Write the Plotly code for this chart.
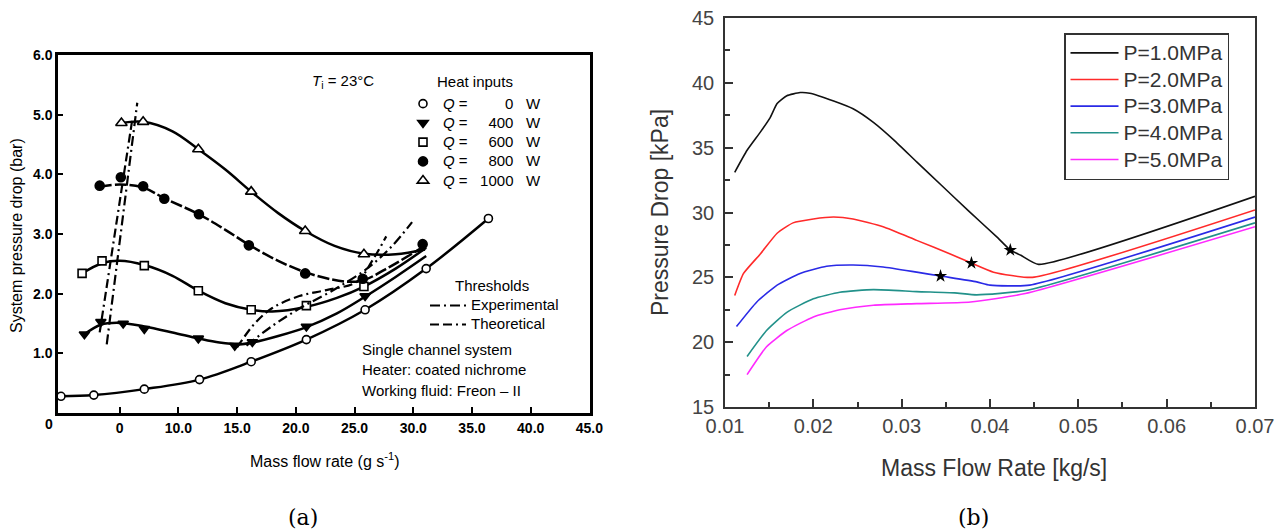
import plotly.graph_objects as go

# ================= Panel (a) data =================
a_xtick_vals = [5, 10, 15, 20, 25, 30, 35, 40, 45]
a_xtick_text = ["0", "10.0", "15.0", "20.0", "25.0", "30.0", "35.0", "40.0", "45.0"]
a_origin_label = "0"
a_ytick_vals = [1, 2, 3, 4, 5, 6]
a_ytick_text = ["1.0", "2.0", "3.0", "4.0", "5.0", "6.0"]

q_labels = ["0", "400", "600", "800", "1000"]

# Q = 0 W (open circles)
q0_x = [0.0, 2.8, 7.1, 11.8, 16.2, 20.9, 25.9, 31.1, 36.4]
q0_y = [0.28, 0.30, 0.40, 0.56, 0.86, 1.23, 1.73, 2.42, 3.26]

# Q = 400 W (filled down triangles)
q400_mx = [2.0, 3.4, 5.3, 7.1, 11.7, 14.8, 16.3, 20.9, 25.9]
q400_my = [1.32, 1.53, 1.50, 1.41, 1.25, 1.13, 1.19, 1.45, 1.96]
q400_cx = [2.0, 3.4, 5.0, 7.1, 9.5, 11.7, 13.5, 15.2, 16.3, 18.5, 20.9, 23.5, 25.9, 28.5, 31.1]
q400_cy = [1.32, 1.48, 1.51, 1.45, 1.35, 1.25, 1.18, 1.15, 1.18, 1.29, 1.44, 1.67, 1.95, 2.28, 2.63]

# Q = 600 W (open squares)
q600_mx = [1.8, 3.5, 7.1, 11.7, 16.2, 20.9, 25.8]
q600_my = [2.34, 2.55, 2.47, 2.05, 1.73, 1.80, 2.12]
q600_cx = [1.8, 3.5, 5.0, 7.1, 9.5, 11.7, 14.0, 16.2, 18.0, 20.9, 23.5, 25.8, 28.5, 31.1]
q600_cy = [2.34, 2.51, 2.55, 2.48, 2.30, 2.05, 1.84, 1.73, 1.70, 1.78, 1.93, 2.12, 2.42, 2.77]

# Q = 800 W (filled circles)
q800_mx = [3.3, 5.1, 7.0, 8.8, 11.75, 16.0, 20.8, 25.7, 30.8]
q800_my = [3.81, 3.95, 3.80, 3.59, 3.33, 2.81, 2.34, 2.25, 2.83]
q800_cx = [3.3, 5.0, 7.0, 8.8, 11.75, 14.0, 16.0, 18.5, 20.8, 23.0, 24.5, 25.7, 28.0, 30.8]
q800_cy = [3.79, 3.83, 3.78, 3.60, 3.33, 3.07, 2.82, 2.55, 2.36, 2.24, 2.20, 2.22, 2.45, 2.78]

# Q = 1000 W (open up triangles)
q1000_mx = [5.15, 7.0, 11.7, 16.2, 20.8, 25.8]
q1000_my = [4.86, 4.88, 4.42, 3.71, 3.05, 2.66]
q1000_cx = [5.15, 7.0, 9.5, 11.7, 14.0, 16.2, 18.5, 20.8, 23.3, 25.8, 28.5, 31.0]
q1000_cy = [4.86, 4.88, 4.72, 4.42, 4.08, 3.71, 3.35, 3.05, 2.80, 2.67, 2.66, 2.74]

# Threshold curves
exp_left_x = [3.9, 6.5]
exp_left_y = [1.15, 5.2]
exp_right_x = [15.8, 18.0, 20.3, 23.1, 26.0, 28.2, 29.9]
exp_right_y = [1.13, 1.46, 1.75, 2.05, 2.41, 2.80, 3.20]
theo_left_x = [3.3, 6.1]
theo_left_y = [1.35, 4.95]
theo_right_x = [15.0, 16.5, 18.0, 20.3, 22.6, 25.2, 26.5, 27.7]
theo_right_y = [1.10, 1.50, 1.76, 1.96, 2.06, 2.20, 2.55, 2.96]

# ================= Panel (b) data =================
b_names = ["P=1.0MPa", "P=2.0MPa", "P=3.0MPa", "P=4.0MPa", "P=5.0MPa"]
b_colors = ["#111111", "#ff2a2a", "#2a2ae6", "#22918a", "#ff2aff"]
b_xticks = [0.01, 0.02, 0.03, 0.04, 0.05, 0.06, 0.07]
b_yticks = [15, 20, 25, 30, 35, 40, 45]

p1_x = [0.0111, 0.0125, 0.0140, 0.0151, 0.0159, 0.0170, 0.0185, 0.0196, 0.0223, 0.0245,
        0.0268, 0.0291, 0.0317, 0.0345, 0.0376, 0.0408, 0.0423, 0.0435, 0.0455, 0.0700]
p1_y = [33.1, 34.8, 36.2, 37.3, 38.4, 39.0, 39.25, 39.2, 38.6, 38.0,
        36.95, 35.6, 33.9, 32.1, 30.1, 28.1, 27.1, 26.7, 26.0, 31.25]
p2_x = [0.0111, 0.0121, 0.0140, 0.0159, 0.0177, 0.0200, 0.0223, 0.0245, 0.0279, 0.0317,
        0.0355, 0.0379, 0.0404, 0.0448, 0.0700]
p2_y = [23.6, 25.3, 26.8, 28.4, 29.2, 29.5, 29.65, 29.5, 28.9, 27.85,
        26.8, 26.1, 25.4, 25.0, 30.2]
p3_x = [0.0113, 0.0136, 0.0159, 0.0185, 0.0215, 0.0245, 0.0279, 0.0317, 0.0344, 0.0385,
        0.0400, 0.0445, 0.0700]
p3_y = [21.2, 23.1, 24.4, 25.3, 25.85, 25.95, 25.8, 25.4, 25.1, 24.65,
        24.4, 24.4, 29.65]
p4_x = [0.0125, 0.0147, 0.0170, 0.0200, 0.0230, 0.0268, 0.0317, 0.0360, 0.0385, 0.0442, 0.0700]
p4_y = [18.9, 20.9, 22.3, 23.35, 23.85, 24.05, 23.9, 23.8, 23.65, 24.0, 29.2]
p5_x = [0.0125, 0.0147, 0.0170, 0.0200, 0.0230, 0.0268, 0.0317, 0.0378, 0.0440, 0.0700]
p5_y = [17.5, 19.65, 20.9, 21.95, 22.5, 22.85, 22.97, 23.1, 23.75, 28.9]

star_x = [0.0423, 0.0379, 0.0344]
star_y = [27.1, 26.1, 25.1]

# ================= Layout helpers (screen pixel -> paper) =================
# The page body has an 8 px margin, so the figure is drawn 8 px in from the corner.
OFF = 8
WIN_W, WIN_H = 1287, 532
W, H = WIN_W - OFF, WIN_H - OFF
def PX(px):
    return (px - OFF) / W
def PY(py):
    return 1 - (py - OFF) / H

FONT = "Liberation Sans, Arial, Helvetica, sans-serif"

def span(text, size):
    return "<span style='font-size:%dpx'>%s</span>" % (size, text)

fig = go.Figure()

# ---------- Panel (a) curves ----------
curve_sets = [
    (q0_x, q0_y, q0_x, q0_y, "circle", "white", 8, "solid"),
    (q400_cx, q400_cy, q400_mx, q400_my, "triangle-down", "black", 9, "solid"),
    (q600_cx, q600_cy, q600_mx, q600_my, "square", "white", 8, "solid"),
    (q800_cx, q800_cy, q800_mx, q800_my, "circle", "black", 9, "12px,3px"),
    (q1000_cx, q1000_cy, q1000_mx, q1000_my, "triangle-up", "white", 10, "solid"),
]
for (cx, cy, mx, my, sym, fill, size, dash), lab in zip(curve_sets, q_labels):
    fig.add_trace(go.Scatter(
        x=cx, y=cy, mode="lines", line=dict(color="black", width=2.5, dash=dash,
                                           shape="spline", smoothing=1.0),
        showlegend=False, xaxis="x", yaxis="y", hoverinfo="skip"))
    pad = "\u00a0" * (3 + 2 * (4 - len(lab)))
    fig.add_trace(go.Scatter(
        x=mx, y=my, mode="markers",
        marker=dict(symbol=sym, size=size, color=fill, line=dict(color="black", width=1.6)),
        name=span("<i>Q</i> =" + pad + lab + "\u00a0\u00a0\u00a0W", 15),
        legend="legend", xaxis="x", yaxis="y"))

# Threshold curves
fig.add_trace(go.Scatter(
    x=exp_left_x + [None] + exp_right_x, y=exp_left_y + [None] + exp_right_y,
    mode="lines", line=dict(color="black", width=2.2, dash="10px,4px,2px,4px", shape="spline"),
    name=span("Experimental", 15), legend="legend3", xaxis="x", yaxis="y"))
fig.add_trace(go.Scatter(
    x=theo_left_x + [None] + theo_right_x, y=theo_left_y + [None] + theo_right_y,
    mode="lines", line=dict(color="black", width=2.2, dash="9px,4px,9px,4px,2px,4px", shape="spline"),
    name=span("Theoretical", 15), legend="legend3", xaxis="x", yaxis="y"))

# ---------- Panel (b) curves ----------
for xs, ys, nm, col in zip([p1_x, p2_x, p3_x, p4_x, p5_x], [p1_y, p2_y, p3_y, p4_y, p5_y],
                           b_names, b_colors):
    fig.add_trace(go.Scatter(
        x=xs, y=ys, mode="lines", name=span(nm, 21),
        line=dict(color=col, width=1.6, shape="spline", smoothing=0.5),
        legend="legend2", xaxis="x2", yaxis="y2"))
fig.add_trace(go.Scatter(
    x=star_x, y=star_y, mode="markers", showlegend=False,
    marker=dict(symbol="star", size=10, color="black"), xaxis="x2", yaxis="y2"))

# ---------- Axes ----------
fig.update_layout(
    width=W, height=H, margin=dict(l=0, r=0, t=0, b=0, autoexpand=False),
    paper_bgcolor="white", plot_bgcolor="white",
    font=dict(family=FONT, color="black"),
    xaxis=dict(domain=[PX(58), PX(590)], range=[-0.25, 45.05], anchor="y",
               showgrid=False, zeroline=False,
               showline=True, mirror=True, linecolor="black", linewidth=2.5,
               ticks="inside", ticklen=6, tickwidth=2, tickcolor="black",
               tickvals=a_xtick_vals, ticktext=a_xtick_text, automargin=False,
               tickfont=dict(size=14, weight="bold", color="black"), ticklabelstandoff=0),
    yaxis=dict(domain=[PY(413), PY(55)], range=[0, 6.0001], anchor="x",
               showgrid=False, zeroline=False,
               showline=True, mirror=True, linecolor="black", linewidth=2.5,
               ticks="inside", ticklen=5, tickwidth=2, tickcolor="black",
               tickvals=a_ytick_vals, ticktext=a_ytick_text, automargin=False,
               tickfont=dict(size=14, weight="bold", color="black"), ticklabelstandoff=0),
    xaxis2=dict(domain=[PX(725), PX(1255)], range=[0.01, 0.070001], anchor="y2",
                showgrid=False, zeroline=False,
                showline=True, mirror=True, linecolor="#333", linewidth=1.5,
                ticks="inside", ticklen=8, tickwidth=1.5, tickcolor="#333",
                tickvals=b_xticks, tickformat=".2f", automargin=False,
                minor=dict(ticks="inside", ticklen=5, tickwidth=1.5, tickcolor="#333",
                           tick0=0.005, dtick=0.005),
                tickfont=dict(size=20, color="#444"), ticklabelstandoff=0),
    yaxis2=dict(domain=[PY(407), PY(18)], range=[15, 45], anchor="x2",
                showgrid=False, zeroline=False,
                showline=True, mirror=True, linecolor="#333", linewidth=1.5,
                ticks="inside", ticklen=8, tickwidth=1.5, tickcolor="#333",
                tickvals=b_yticks, showticklabels=False, automargin=False,
                minor=dict(ticks="inside", ticklen=5, tickwidth=1.5, tickcolor="#333",
                           tick0=15, dtick=2.5)),
    legend=dict(x=PX(403), y=PY(89), xanchor="left", yanchor="top",
                bgcolor="rgba(0,0,0,0)", borderwidth=0, itemwidth=30,
                font=dict(size=12.5, color="black", family=FONT), tracegroupgap=0),
    legend2=dict(x=PX(1064), y=PY(33), xanchor="left", yanchor="top",
                 bgcolor="white", bordercolor="#333", borderwidth=1.5, itemwidth=48,
                 font=dict(size=18.2, color="#333", family=FONT), tracegroupgap=0),
    legend3=dict(x=PX(425), y=PY(291), xanchor="left", yanchor="top",
                 bgcolor="rgba(0,0,0,0)", borderwidth=0, itemwidth=36,
                 font=dict(size=11.5, color="black", family=FONT), tracegroupgap=0),
)

# y tick labels of panel (b), placed on its own y scale
for v in b_yticks:
    fig.add_annotation(text=str(v), x=PX(716), y=v, xref="paper", yref="y2",
                       xanchor="right", yanchor="middle", showarrow=False,
                       font=dict(size=20, color="#444", family=FONT))

# ---------- Annotations (text) ----------
def ann(text, px, py, size, xanchor="center", yanchor="middle", angle=0, color="black",
        family=FONT, weight="normal"):
    fig.add_annotation(text=text, x=PX(px), y=PY(py), xref="paper", yref="paper",
                       xanchor=xanchor, yanchor=yanchor, textangle=angle, showarrow=False,
                       font=dict(size=size, color=color, family=family, weight=weight))

ann("System pressure drop (bar)", 17, 236, 16, angle=-90)
ann("Mass flow rate (g s<sup>-1</sup>)", 325, 460, 16)
ann(a_origin_label, 49, 424, 14, weight="bold")
ann("<i>T</i><sub>i</sub> = 23°C", 310, 82, 15, xanchor="left")
ann("Heat inputs", 435, 82, 15, xanchor="left")
ann("Thresholds", 453, 285, 15, xanchor="left")
ann("Single channel system", 360, 349, 15, xanchor="left")
ann("Heater: coated nichrome", 360, 369, 15, xanchor="left")
ann("Working fluid: Freon – II", 360, 390, 15, xanchor="left")

ann("Pressure Drop [kPa]", 660, 213, 23, angle=-90, color="#333")
ann("Mass Flow Rate [kg/s]", 994, 468, 23, color="#333")

ann("(a)", 303, 517, 22, family="DejaVu Serif, Liberation Serif, serif")
ann("(b)", 973, 517, 22, family="DejaVu Serif, Liberation Serif, serif")

fig.write_html("out.html")
